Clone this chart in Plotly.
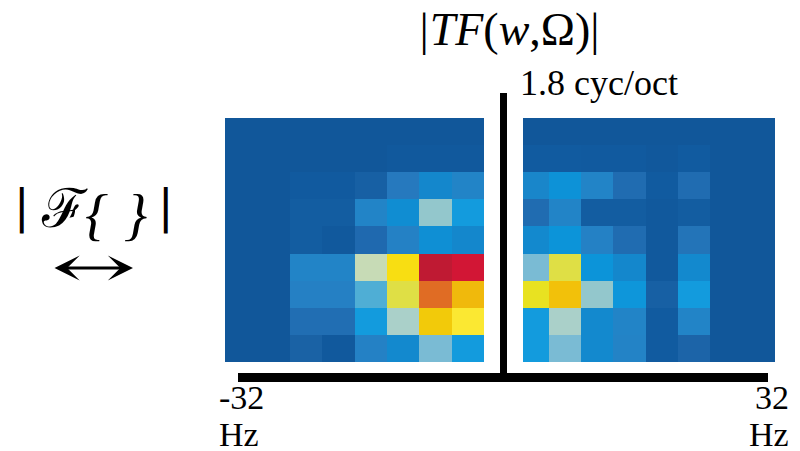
import plotly.graph_objects as go

W, H = 800, 451

# ---- data (colormap positions, 0 = background, 1 = max) ----
rows = list(range(9))
left_cols = list(range(0, 8))
right_cols = list(range(9, 17))

left_values = [
    [0, 0, 0, 0, 0, 0, 0, 0],
    [0, 0, 0, 0, 0, 0.02, 0.02, 0.02],
    [0, 0, 0.03, 0.03, 0.07, 0.17, 0.26, 0.23],
    [0, 0, 0.05, 0.05, 0.23, 0.29, 0.48, 0.35],
    [0, 0, 0.05, 0.02, 0.11, 0.21, 0.30, 0.26],
    [0, 0, 0.23, 0.23, 0.59, 0.74, 1.00, 0.94],
    [0, 0, 0.20, 0.20, 0.39, 0.64, 0.88, 0.82],
    [0, 0, 0.13, 0.13, 0.35, 0.53, 0.78, 0.71],
    [0, 0, 0.08, 0.02, 0.21, 0.27, 0.43, 0.35],
]

right_values = [
    [0, 0, 0, 0, 0, 0, 0, 0],
    [0.04, 0.04, 0.03, 0.03, 0.01, 0.04, 0, 0],
    [0.25, 0.31, 0.23, 0.12, 0.04, 0.12, 0, 0],
    [0.12, 0.23, 0.05, 0.05, 0.02, 0.05, 0, 0],
    [0.27, 0.32, 0.21, 0.12, 0.02, 0.15, 0, 0],
    [0.43, 0.64, 0.32, 0.26, 0.02, 0.27, 0, 0],
    [0.68, 0.80, 0.48, 0.33, 0.07, 0.35, 0, 0],
    [0.35, 0.53, 0.27, 0.23, 0.04, 0.23, 0, 0],
    [0.35, 0.43, 0.27, 0.22, 0.04, 0.09, 0, 0],
]

colorscale = [
    [0.00, "#11579A"], [0.02, "#11599D"], [0.04, "#115BA0"], [0.06, "#145EA2"],
    [0.08, "#1A62A5"], [0.11, "#1F69AF"], [0.14, "#2271B5"], [0.17, "#2679BE"],
    [0.20, "#2580C4"], [0.23, "#2284C7"], [0.26, "#1487CC"], [0.29, "#108DD2"],
    [0.32, "#0C94D9"], [0.35, "#139BDD"], [0.39, "#4FAED5"], [0.43, "#7ABBD4"],
    [0.48, "#93C7CC"], [0.53, "#AAD0C9"], [0.59, "#C7DBB6"], [0.64, "#DFDF45"],
    [0.68, "#E8E221"], [0.71, "#FBE832"], [0.74, "#F8DE12"], [0.78, "#F2CA0A"],
    [0.80, "#F2C10A"], [0.82, "#F0B90C"], [0.88, "#E06C24"], [0.94, "#D21635"],
    [1.00, "#BF1A33"],
]

title_text = "<i>|TF</i>(<i>w</i>,Ω)|"
scale_text = "1.8 cyc/oct"
x_min_label = ["-32", "Hz"]
x_max_label = ["32", "Hz"]


def px(x):
    return x / W


def py(y):
    return (H - y) / H


fig = go.Figure()
for cols, vals in ((left_cols, left_values), (right_cols, right_values)):
    fig.add_trace(go.Heatmap(
        x=cols, y=rows, z=vals, zmin=0, zmax=1, colorscale=colorscale,
        showscale=False, hoverinfo="skip",
    ))

serif = "Liberation Serif, Times New Roman, serif"

fig.update_layout(
    width=W, height=H, margin=dict(l=0, r=0, t=0, b=0),
    paper_bgcolor="white", plot_bgcolor="white", showlegend=False,
    xaxis=dict(domain=[px(225), px(775)], range=[-0.5, 16.5], visible=False, fixedrange=True),
    yaxis=dict(domain=[py(362), py(118)], range=[8.5, -0.5], visible=False, fixedrange=True),
)

# white gap around the centre line, the centre line and the frequency axis line
fig.add_shape(type="rect", xref="paper", yref="paper", x0=px(485), x1=px(523),
              y0=py(363), y1=py(117), fillcolor="white", line_width=0, layer="above")
fig.add_shape(type="rect", xref="paper", yref="paper", x0=px(500), x1=px(507),
              y0=py(374), y1=py(93), fillcolor="black", line_width=0, layer="above")
fig.add_shape(type="rect", xref="paper", yref="paper", x0=px(238), x1=px(768),
              y0=py(382), y1=py(373), fillcolor="black", line_width=0, layer="above")


def label(text, x, y, size, xanchor="center", family=serif, height=None):
    fig.add_annotation(text=text, x=px(x), y=py(y), xref="paper", yref="paper",
                       xanchor=xanchor, yanchor="middle", showarrow=False,
                       height=height, valign="middle",
                       font=dict(family=family, size=size, color="black"))


label(title_text, 508, 29, 46)
label(scale_text, 518, 83, 36, xanchor="left")
label(x_min_label[0], 217, 397, 34, xanchor="left", height=32)
label(x_min_label[1], 217, 434, 34, xanchor="left", height=32)
label(x_max_label[0], 791, 397, 34, xanchor="right", height=32)
label(x_max_label[1], 791, 434, 34, xanchor="right", height=32)

# |F{ }| operator symbol
label("|", 22, 206, 46, family="DejaVu Sans")
label("ℱ", 64, 209, 54, family="DejaVu Serif")
label("<i>{</i>", 96, 214, 58)
label("<i>}</i>", 135, 214, 58)
label("|", 166, 206, 46, family="DejaVu Sans")

# double-headed arrow
fig.add_annotation(text="", x=px(133), y=py(268), xref="paper", yref="paper",
                   ax=-80, ay=0,
                   showarrow=True, arrowhead=3, startarrowhead=3, arrowside="end+start",
                   arrowwidth=3, arrowsize=1.4, startarrowsize=1.4, arrowcolor="black")

fig.write_html("out.html")
